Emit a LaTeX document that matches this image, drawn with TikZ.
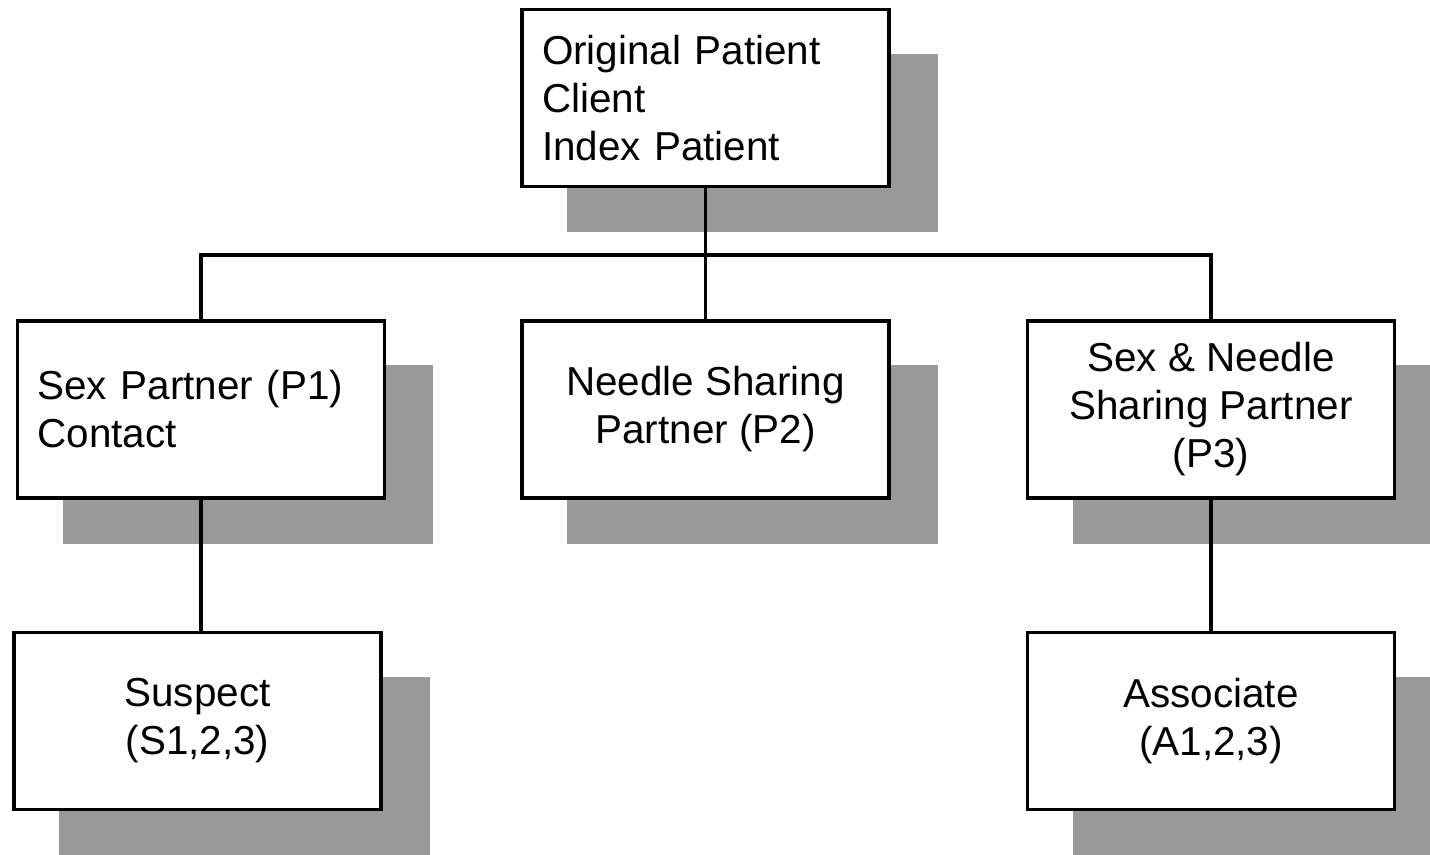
\documentclass[tikz,border=0pt]{standalone}
\usepackage{fontspec}
\setmainfont{Liberation Sans}
\usetikzlibrary{shadows}
\tikzstyle{box}=[draw, line width=1.8pt, fill=white, minimum width=7.34cm, minimum height=3.54cm, align=center, font=\fontsize{23}{27.3}\selectfont, drop shadow={shadow xshift=0.93cm, shadow yshift=-0.89cm, shadow scale=1.01, fill=black!40, opacity=1}]
\tikzstyle{boxleft}=[box, align=left, text width=6.54cm, inner xsep=0.4cm]
\tikzstyle{link}=[line width=2pt]

\begin{document}
\begin{tikzpicture}
		   \useasboundingbox (0,0) rectangle (28.6,-17.1);
		   \begin{scope}
			   \node (idx) at (14.11, -1.96)[boxleft] {Original Patient\\Client\\Index Patient};
			   \node (p1) at (4.02, -8.19)[boxleft] {Sex Partner (P1)\\Contact};
			   \node (p2) at (14.11, -8.19)[box] {Needle Sharing\\Partner (P2)};
			   \node (p3) at (24.22, -8.19)[box] {Sex \& Needle\\Sharing Partner\\(P3)};
			   \node (s) at (3.95, -14.42)[box] {Suspect\\(S1,2,3)};
			   \node (a) at (24.22, -14.42)[box] {Associate\\(A1,2,3)};
			   \coordinate (bus) at (14.11, -5.1);
		   \end{scope}
		   \begin{scope}
			   \path [link] (idx) edge (p2);
			   \draw [link] (p1.north) |- (bus) -| (p3.north);
			   \draw [link] (p1.south) -- (p1.south |- s.north);
			   \path [link] (p3) edge (a);
		   \end{scope}
	   \end{tikzpicture}
\end{document}
